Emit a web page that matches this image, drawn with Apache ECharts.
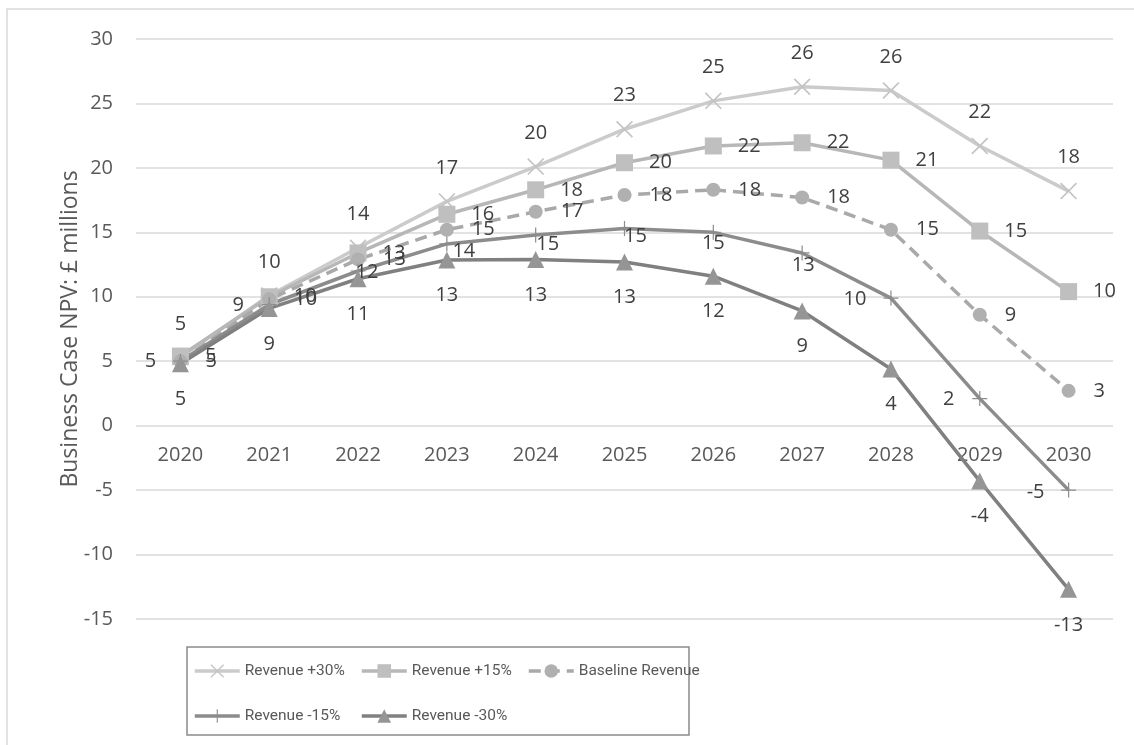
<!DOCTYPE html>
<html><head><meta charset="utf-8">
<script src="https://cdn.jsdelivr.net/npm/echarts@6/dist/echarts.min.js"></script>
<style>html,body{margin:0;padding:0;background:#fff}#c{width:1134px;height:745px}</style>
</head><body><div id="c"></div>
<script>
// ---- data ----
const years = ['2020','2021','2022','2023','2024','2025','2026','2027','2028','2029','2030'];
const seriesNames = ['Revenue +30%','Revenue +15%','Baseline Revenue','Revenue -15%','Revenue -30%'];
const revPlus30  = [5.3, 10.1, 13.8, 17.4, 20.1, 23.0, 25.2, 26.3, 26.0, 21.7, 18.2];
const revPlus15  = [5.4, 10.0, 13.4, 16.4, 18.3, 20.4, 21.7, 21.95, 20.6, 15.1, 10.4];
const baseline   = [5.0, 9.8, 12.9, 15.2, 16.6, 17.9, 18.3, 17.7, 15.2, 8.6, 2.7];
const revMinus15 = [5.0, 9.4, 12.0, 14.1, 14.8, 15.3, 15.0, 13.4, 9.9, 2.1, -5.0];
const revMinus30 = [4.8, 9.1, 11.4, 12.85, 12.9, 12.7, 11.6, 8.9, 4.4, -4.3, -12.7];
const yTicks = {min: -15, max: 30, interval: 5};

// label placement for the Revenue -15% series (offset from point, px)
const minus15LabelOffsets = [[-30,0],[-31,1],[9,1],[17,7],[12,9],[11,8],[0,11],[1,12],[-36,1],[-31,1],[-33,2]];

const X_PATH = 'path://M0,1.4L1.4,0L10,8.6L18.6,0L20,1.4L11.4,10L20,18.6L18.6,20L10,11.4L1.4,20L0,18.6L8.6,10Z';
const PLUS_PATH = 'path://M9.2,0H10.8V9.2H20V10.8H10.8V20H9.2V10.8H0V9.2H9.2Z';

const labelFont = {fontFamily: 'Open Sans', fontSize: 20, color: '#404040'};
const fmt = p => String(Math.round(p.value));

function mkSeries(name, data, color, markerColor, symbol, size, label, lineType) {
  return {
    name, type: 'line', data,
    symbol, symbolSize: size, showAllSymbol: true,
    lineStyle: {color, width: 3.5, type: lineType || 'solid'},
    itemStyle: {color: markerColor, borderWidth: 0},
    emphasis: {disabled: true},
    label: Object.assign({show: true, formatter: fmt}, labelFont, label),
    animation: false
  };
}

const GRID = {left: 136, right: 21, top: 39, bottom: 126};
const plotH = 745 - GRID.top - GRID.bottom;
// put the category axis on the zero line
const zeroOffset = -plotH * (0 - yTicks.min) / (yTicks.max - yTicks.min);

const chart = echarts.init(document.getElementById('c'), null, {renderer: 'canvas'});

const s15m = mkSeries(seriesNames[3], revMinus15.map((v, i) => ({
  value: v,
  label: {position: 'inside', offset: minus15LabelOffsets[i]}
})), '#8c8c8c', '#8c8c8c', PLUS_PATH, 15, {});

const legendPos = [[193, 663], [360, 663], [527, 663], [193, 708], [360, 708]];

chart.setOption({
  backgroundColor: '#ffffff',
  animation: false,
  grid: Object.assign({containLabel: false}, GRID),
  xAxis: {
    type: 'category', data: years, boundaryGap: true, offset: zeroOffset,
    axisLine: {show: false, onZero: false},
    axisTick: {show: false},
    axisLabel: {margin: 20, color: '#595959', fontFamily: 'Open Sans', fontSize: 20},
    splitLine: {show: false}
  },
  yAxis: {
    type: 'value', min: yTicks.min, max: yTicks.max, interval: yTicks.interval,
    name: 'Business Case NPV: £ millions', nameLocation: 'middle', nameGap: 54,
    nameMoveOverlap: false,
    nameTextStyle: {color: '#595959', fontFamily: 'Open Sans', fontSize: 23},
    axisLine: {show: false}, axisTick: {show: false},
    axisLabel: {margin: 23, color: '#595959', fontFamily: 'Open Sans', fontSize: 20},
    splitLine: {lineStyle: {color: '#d9d9d9', width: 1.5}}
  },
  legend: seriesNames.map((n, i) => ({
    data: [n], left: legendPos[i][0], top: legendPos[i][1], padding: 0,
    itemWidth: 45, itemHeight: 17, itemGap: 5, selectedMode: false,
    lineStyle: {width: 3.5},
    textStyle: {color: '#595959', fontFamily: 'Roboto', fontSize: 15.5}
  })),
  graphic: [
    {type: 'rect', shape: {x: 7, y: 9, width: 1300, height: 900}, silent: true,
     style: {fill: 'none', stroke: '#d9d9d9', lineWidth: 1.5}},
    {type: 'rect', shape: {x: 187, y: 647, width: 502, height: 88}, silent: true,
     style: {fill: 'none', stroke: '#8a8a8a', lineWidth: 1.5}}
  ],
  series: [
    mkSeries(seriesNames[0], revPlus30, '#cbcbcb', '#c4c4c4', X_PATH, 17, {position: 'top', distance: 15}),
    mkSeries(seriesNames[1], revPlus15, '#b7b7b7', '#bfbfbf', 'rect', 17, {position: 'right', distance: 16}),
    mkSeries(seriesNames[2], baseline, '#a9a9a9', '#b0b0b0', 'circle', 14, {position: 'right', distance: 18}, [12, 7]),
    s15m,
    mkSeries(seriesNames[4], revMinus30, '#808080', '#959595', 'triangle', 17, {position: 'bottom', distance: 17})
  ]
});
</script>
</body></html>
